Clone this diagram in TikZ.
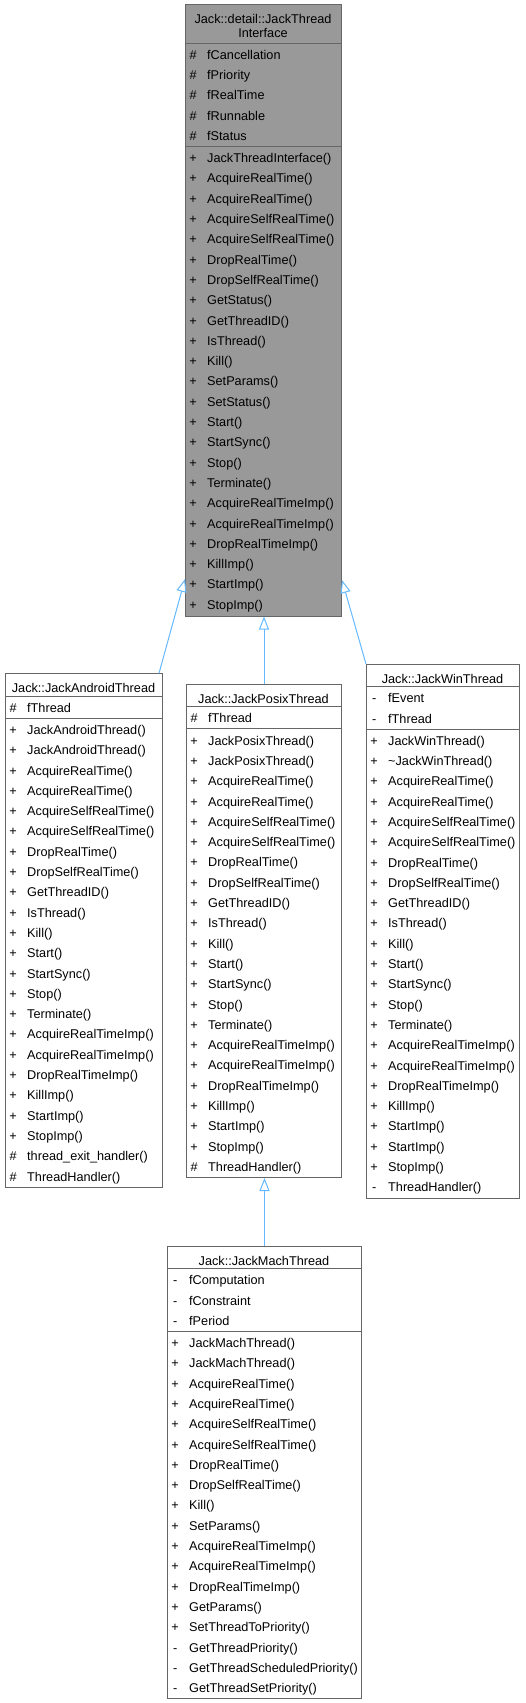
\documentclass[tikz,border=0pt]{standalone}
\usepackage{fontspec}
\setmainfont{Liberation Sans}
\usepackage{xcolor}
\usetikzlibrary{arrows.meta}
\definecolor{edgeblue}{HTML}{63B8FF}
\definecolor{basegray}{HTML}{999999}
\definecolor{framegray}{HTML}{666666}
\newcommand{\mvis}[1]{\strut\makebox[22pt][l]{\hspace{3pt}\makebox[10pt]{#1}}}

\begin{document}
\begin{tikzpicture}[x=1pt,y=-1pt,
  classbox/.style={draw=framegray,line width=1pt,fill=white,anchor=north west,inner sep=0pt},
  classname/.style={anchor=north,inner sep=0pt,align=center,font=\fontsize{12.7}{14}\selectfont},
  members/.style={anchor=north west,inner sep=0pt,align=left,font=\fontsize{12.7}{20.3}\selectfont},
  divider/.style={draw=framegray,line width=1pt},
  inherit/.style={draw=edgeblue,line width=1pt,-{Triangle[open,length=13pt,width=10pt]}}]
  \useasboundingbox (0,0) rectangle (525,1703);

  \node[classbox,fill=basegray,minimum width=156pt,minimum height=612pt] (iface) at (185,3.5) {};
  \node[classname] (iface-name) at (263,14) {Jack::detail::JackThread\\Interface};
  \draw[divider] (185,43) -- (341,43);
  \node[members] (iface-attr) at (185,44.8) {\mvis{\#}fCancellation\\\mvis{\#}fPriority\\\mvis{\#}fRealTime\\\mvis{\#}fRunnable\\\mvis{\#}fStatus};
  \draw[divider] (185,146.4) -- (341,146.4);
  \node[members] (iface-ops) at (185,148.2) {\mvis{+}JackThreadInterface()\\\mvis{+}AcquireRealTime()\\\mvis{+}AcquireRealTime()\\\mvis{+}AcquireSelfRealTime()\\\mvis{+}AcquireSelfRealTime()\\\mvis{+}DropRealTime()\\\mvis{+}DropSelfRealTime()\\\mvis{+}GetStatus()\\\mvis{+}GetThreadID()\\\mvis{+}IsThread()\\\mvis{+}Kill()\\\mvis{+}SetParams()\\\mvis{+}SetStatus()\\\mvis{+}Start()\\\mvis{+}StartSync()\\\mvis{+}Stop()\\\mvis{+}Terminate()\\\mvis{+}AcquireRealTimeImp()\\\mvis{+}AcquireRealTimeImp()\\\mvis{+}DropRealTimeImp()\\\mvis{+}KillImp()\\\mvis{+}StartImp()\\\mvis{+}StopImp()};

  \node[classbox,minimum width=157pt,minimum height=514pt] (android) at (5,673.3) {};
  \node[classname] (android-name) at (83.5,683.5) {Jack::JackAndroidThread};
  \draw[divider] (5,696) -- (162,696);
  \node[members] (android-attr) at (5,697.8) {\mvis{\#}fThread};
  \draw[divider] (5,718.2) -- (162,718.2);
  \node[members] (android-ops) at (5,720) {\mvis{+}JackAndroidThread()\\\mvis{+}JackAndroidThread()\\\mvis{+}AcquireRealTime()\\\mvis{+}AcquireRealTime()\\\mvis{+}AcquireSelfRealTime()\\\mvis{+}AcquireSelfRealTime()\\\mvis{+}DropRealTime()\\\mvis{+}DropSelfRealTime()\\\mvis{+}GetThreadID()\\\mvis{+}IsThread()\\\mvis{+}Kill()\\\mvis{+}Start()\\\mvis{+}StartSync()\\\mvis{+}Stop()\\\mvis{+}Terminate()\\\mvis{+}AcquireRealTimeImp()\\\mvis{+}AcquireRealTimeImp()\\\mvis{+}DropRealTimeImp()\\\mvis{+}KillImp()\\\mvis{+}StartImp()\\\mvis{+}StopImp()\\\mvis{\#}thread\_exit\_handler()\\\mvis{\#}ThreadHandler()};

  \node[classbox,minimum width=155pt,minimum height=493pt] (posix) at (186,684) {};
  \node[classname] (posix-name) at (263.5,694.2) {Jack::JackPosixThread};
  \draw[divider] (186,706.7) -- (341,706.7);
  \node[members] (posix-attr) at (186,708.5) {\mvis{\#}fThread};
  \draw[divider] (186,728.9) -- (341,728.9);
  \node[members] (posix-ops) at (186,730.7) {\mvis{+}JackPosixThread()\\\mvis{+}JackPosixThread()\\\mvis{+}AcquireRealTime()\\\mvis{+}AcquireRealTime()\\\mvis{+}AcquireSelfRealTime()\\\mvis{+}AcquireSelfRealTime()\\\mvis{+}DropRealTime()\\\mvis{+}DropSelfRealTime()\\\mvis{+}GetThreadID()\\\mvis{+}IsThread()\\\mvis{+}Kill()\\\mvis{+}Start()\\\mvis{+}StartSync()\\\mvis{+}Stop()\\\mvis{+}Terminate()\\\mvis{+}AcquireRealTimeImp()\\\mvis{+}AcquireRealTimeImp()\\\mvis{+}DropRealTimeImp()\\\mvis{+}KillImp()\\\mvis{+}StartImp()\\\mvis{+}StopImp()\\\mvis{\#}ThreadHandler()};

  \node[classbox,minimum width=153pt,minimum height=534pt] (win) at (366,664) {};
  \node[classname] (win-name) at (442.5,674.2) {Jack::JackWinThread};
  \draw[divider] (366,686.5) -- (519,686.5);
  \node[members] (win-attr) at (366,688.3) {\mvis{-}fEvent\\\mvis{-}fThread};
  \draw[divider] (366,729) -- (519,729);
  \node[members] (win-ops) at (366,730.8) {\mvis{+}JackWinThread()\\\mvis{+}\textasciitilde JackWinThread()\\\mvis{+}AcquireRealTime()\\\mvis{+}AcquireRealTime()\\\mvis{+}AcquireSelfRealTime()\\\mvis{+}AcquireSelfRealTime()\\\mvis{+}DropRealTime()\\\mvis{+}DropSelfRealTime()\\\mvis{+}GetThreadID()\\\mvis{+}IsThread()\\\mvis{+}Kill()\\\mvis{+}Start()\\\mvis{+}StartSync()\\\mvis{+}Stop()\\\mvis{+}Terminate()\\\mvis{+}AcquireRealTimeImp()\\\mvis{+}AcquireRealTimeImp()\\\mvis{+}DropRealTimeImp()\\\mvis{+}KillImp()\\\mvis{+}StartImp()\\\mvis{+}StartImp()\\\mvis{+}StopImp()\\\mvis{-}ThreadHandler()};

  \node[classbox,minimum width=194pt,minimum height=452pt] (mach) at (167,1246) {};
  \node[classname] (mach-name) at (264,1256.2) {Jack::JackMachThread};
  \draw[divider] (167,1268.5) -- (361,1268.5);
  \node[members] (mach-attr) at (167,1270.3) {\mvis{-}fComputation\\\mvis{-}fConstraint\\\mvis{-}fPeriod};
  \draw[divider] (167,1331.3) -- (361,1331.3);
  \node[members] (mach-ops) at (167,1333.1) {\mvis{+}JackMachThread()\\\mvis{+}JackMachThread()\\\mvis{+}AcquireRealTime()\\\mvis{+}AcquireRealTime()\\\mvis{+}AcquireSelfRealTime()\\\mvis{+}AcquireSelfRealTime()\\\mvis{+}DropRealTime()\\\mvis{+}DropSelfRealTime()\\\mvis{+}Kill()\\\mvis{+}SetParams()\\\mvis{+}AcquireRealTimeImp()\\\mvis{+}AcquireRealTimeImp()\\\mvis{+}DropRealTimeImp()\\\mvis{+}GetParams()\\\mvis{+}SetThreadToPriority()\\\mvis{-}GetThreadPriority()\\\mvis{-}GetThreadScheduledPriority()\\\mvis{-}GetThreadSetPriority()};

  \draw[inherit] ([xshift=-4pt]android.north east) -- ([yshift=37.5pt]iface.south west);
  \draw[inherit] (posix.north) -- (posix.north |- iface.south);
  \draw[inherit] (win.north west) -- ([yshift=36.5pt]iface.south east);
  \draw[inherit] (mach.north) -- (mach.north |- posix.south);
\end{tikzpicture}
\end{document}
